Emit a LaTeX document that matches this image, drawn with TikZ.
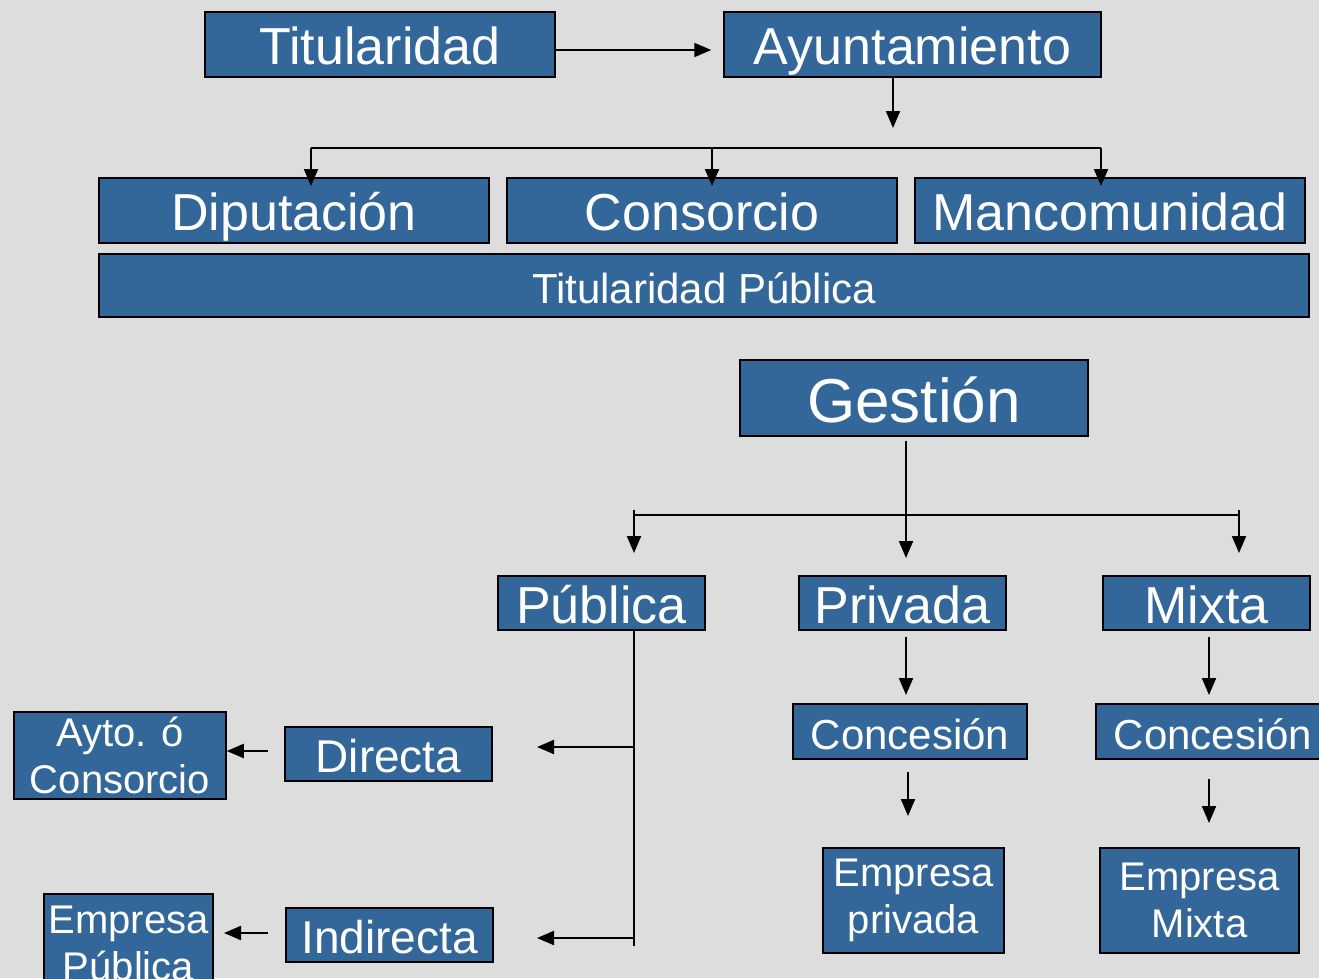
\documentclass[tikz,border=0pt]{standalone}
\usepackage{fontspec}
\setmainfont{Liberation Sans}
\usetikzlibrary{arrows.meta}
\definecolor{bg}{RGB}{221,221,221}
\definecolor{boxblue}{RGB}{51,102,153}
\begin{document}
\begin{tikzpicture}[x=1pt,y=-1pt,
  box/.style={draw=black,line width=1.5pt,fill=boxblue,text=white,inner sep=0pt,anchor=center,align=center},
  fA/.style={font=\fontsize{52}{60}\selectfont,text height=40pt,text depth=0pt},
  fG/.style={font=\fontsize{62}{70}\selectfont,text height=48pt,text depth=0pt},
  fB/.style={font=\fontsize{46}{52}\selectfont,text height=37pt,text depth=0pt},
  fC/.style={font=\fontsize{42}{48}\selectfont,text height=35pt,text depth=0pt},
  fD/.style={font=\fontsize{40}{47}\selectfont},
  conn/.style={draw=black,line width=2pt},
  arr/.style={conn,-{Triangle[length=17pt,width=14pt]}}]
\fill[bg] (0,0) rectangle (1319,978);
\useasboundingbox (0,0) rectangle (1319,978);
% top
\node[box,fA,minimum width=350pt,minimum height=65pt] (tit) at (380,44.5) {Titularidad};
\node[box,fA,minimum width=377pt,minimum height=65pt] (ayu) at (912.5,44.5) {Ayuntamiento};
\node[box,fA,minimum width=390pt,minimum height=65pt] (dip) at (294,210.5) {Diputación};
\node[box,fA,minimum width=390pt,minimum height=65pt] (con) at (702,210.5) {Consorcio};
\node[box,fA,minimum width=390pt,minimum height=65pt] (man) at (1110,210.5) {Mancomunidad};
\node[box,fC,minimum width=1210pt,minimum height=63pt] (tp) at (704,285.5) {Titularidad Pública};
% gestion
\node[box,fG,minimum width=348pt,minimum height=76pt] (ges) at (914,398) {Gestión};
\node[box,fA,minimum width=207pt,minimum height=54pt] (pub) at (601.5,603) {Pública};
\node[box,fA,minimum width=207pt,minimum height=54pt] (pri) at (902.5,603) {Privada};
\node[box,fA,minimum width=207pt,minimum height=54pt] (mix) at (1206.5,603) {Mixta};
\node[box,fB,minimum width=207pt,minimum height=54pt] (dir) at (388.5,754) {Directa};
\node[box,fB,minimum width=207pt,minimum height=54pt] (ind) at (389.5,935) {Indirecta};
\node[box,fD,minimum width=212pt,minimum height=87pt] (ayt) at (120,755.5) {Ayto. ó\\Consorcio};
\node[box,fD,minimum width=169pt,minimum height=100pt,anchor=north] (emp) at (128.5,893) {Empresa\\Pública};
\node[box,fC,minimum width=234pt,minimum height=55pt] (con1) at (910,731.5) {Concesión};
\node[box,fC,minimum width=234pt,minimum height=55pt] (con2) at (1213,731.5) {Concesión};
\node[box,fD,minimum width=181pt,minimum height=105pt] (epr) at (913.5,900.5) {Empresa\\privada};
\node[box,fD,minimum width=199pt,minimum height=105pt] (emx) at (1199.5,900.5) {Empresa\\Mixta};
% connectors top
\draw[arr,shorten >=12pt] (tit.east |- 0,50) -- (ayu.west |- 0,50);
\coordinate (a1) at (893,128);
\draw[arr] (ayu.south -| a1) -- (a1);
\coordinate (b1) at (311,148);
\coordinate (b2) at (712,148);
\coordinate (b3) at (1101,148);
\draw[conn] (b1) -- (b3);
\draw[arr] (b1) -- (311,186);
\draw[arr] (b2) -- (712,186);
\draw[arr] (b3) -- (1101,186);
% gestion connectors
\coordinate (g0) at (906,441);
\draw[arr] (g0) -- (906,558);
\coordinate (g1) at (634,515);
\coordinate (g2) at (1239,515);
\draw[conn] (g1) -- (g2);
\draw[arr] (634,510) -- (634,553);
\draw[arr] (1239,510) -- (1239,553);
% publica branches
\coordinate (p1) at (634,747);
\coordinate (p2) at (634,946);
\draw[conn] (pub.south -| p1) -- (p2);
\draw[arr] (p1) -- (537,747);
\draw[arr] (634,938) -- (537,938);
\draw[arr] (268,751) -- (ayt.east |- 0,751);
\draw[arr] (268,933) -- (224,933);
% privada / mixta
\draw[arr] (906,637) -- (906,695);
\draw[arr] (908,772) -- (908,816);
\draw[arr] (1209,637) -- (1209,695);
\draw[arr] (1209,779) -- (1209,823);
\end{tikzpicture}
\end{document}
